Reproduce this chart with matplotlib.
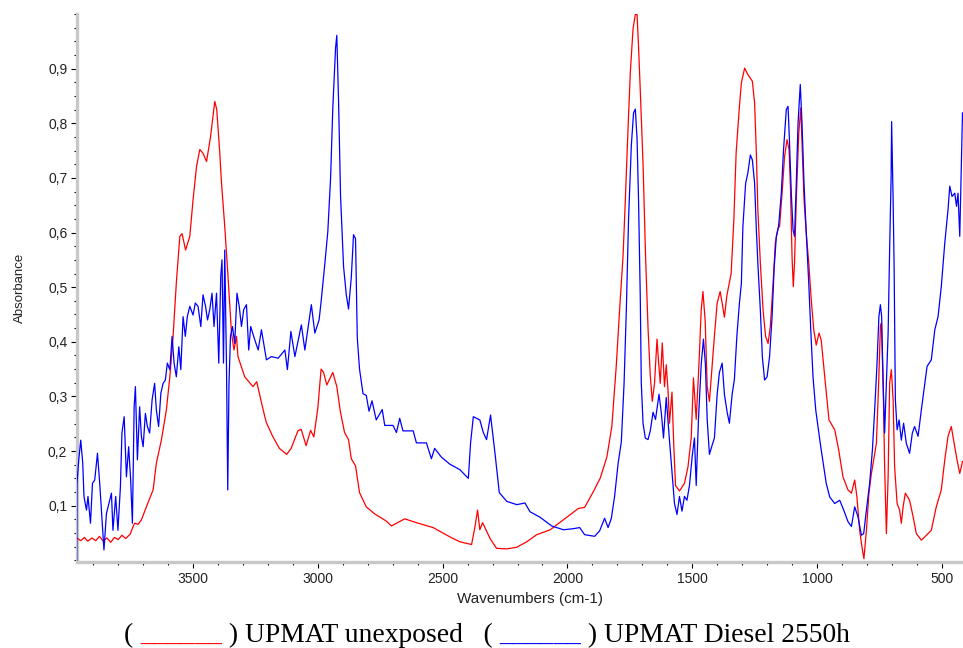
import numpy as np
import matplotlib.pyplot as plt
from matplotlib.ticker import MultipleLocator, FixedLocator, FuncFormatter

# UPMAT unexposed (red): wavenumber (cm-1), absorbance
red_wn = [3963, 3950, 3935, 3922, 3905, 3890, 3875, 3860, 3845, 3830, 3815, 3800, 3785, 3770,
          3752, 3740, 3734, 3720, 3707, 3687, 3660, 3647, 3627, 3607, 3593, 3580, 3567, 3553,
          3544, 3530, 3513, 3500, 3486, 3473, 3460, 3446, 3430, 3413, 3405, 3393, 3386, 3373,
          3360, 3346, 3336, 3326, 3320, 3293, 3260, 3245, 3221, 3207, 3181, 3154, 3125, 3107,
          3080, 3067, 3047, 3029, 3016, 3000, 2987, 2977, 2964, 2940, 2924, 2910, 2893, 2877,
          2866, 2849, 2833, 2806, 2772, 2726, 2705, 2652, 2605, 2538, 2471, 2431, 2384, 2371,
          2360, 2351, 2340, 2310, 2284, 2243, 2203, 2163, 2123, 2069, 2002, 1956, 1931, 1897,
          1869, 1842, 1822, 1804, 1791, 1777, 1768, 1757, 1748, 1737, 1728, 1721, 1715, 1708,
          1697, 1687, 1677, 1668, 1660, 1651, 1641, 1635, 1628, 1620, 1611, 1604, 1597, 1591,
          1581, 1575, 1567, 1551, 1531, 1517, 1504, 1495, 1484, 1473, 1464, 1457, 1448, 1440,
          1431, 1420, 1411, 1400, 1388, 1380, 1371, 1361, 1344, 1333, 1324, 1311, 1303, 1290,
          1277, 1259, 1250, 1243, 1237, 1227, 1216, 1206, 1196, 1187, 1176, 1167, 1156, 1150,
          1139, 1130, 1120, 1112, 1106, 1100, 1095, 1090, 1083, 1073, 1065, 1059, 1052, 1043,
          1033, 1023, 1013, 1003, 992, 983, 969, 952, 929, 913, 896, 876, 862, 849, 840, 829,
          820, 812, 802, 792, 782, 773, 762, 753, 746, 742, 735, 729, 722, 715, 709, 702, 695,
          689, 679, 669, 662, 655, 646, 629, 615, 602, 582, 568, 542, 522, 502, 488, 475, 462,
          448, 439, 428, 417]
red_abs = [0.040, 0.036, 0.042, 0.035, 0.041, 0.036, 0.044, 0.035, 0.041, 0.033, 0.042, 0.038,
           0.046, 0.040, 0.048, 0.062, 0.068, 0.066, 0.074, 0.098, 0.129, 0.178, 0.220, 0.275,
           0.336, 0.410, 0.508, 0.593, 0.598, 0.568, 0.593, 0.660, 0.721, 0.752, 0.745, 0.730,
           0.775, 0.840, 0.825, 0.746, 0.691, 0.611, 0.520, 0.416, 0.385, 0.410, 0.373, 0.336,
           0.318, 0.327, 0.279, 0.253, 0.227, 0.205, 0.194, 0.205, 0.237, 0.240, 0.210, 0.238,
           0.226, 0.279, 0.350, 0.344, 0.321, 0.344, 0.318, 0.273, 0.234, 0.221, 0.186, 0.173,
           0.124, 0.098, 0.085, 0.072, 0.063, 0.076, 0.069, 0.060, 0.043, 0.034, 0.029, 0.060,
           0.092, 0.056, 0.069, 0.040, 0.022, 0.021, 0.024, 0.034, 0.047, 0.056, 0.079, 0.095,
           0.097, 0.125, 0.150, 0.189, 0.245, 0.358, 0.458, 0.558, 0.659, 0.792, 0.893, 0.973,
           0.999, 0.999, 0.940, 0.859, 0.726, 0.558, 0.425, 0.338, 0.291, 0.324, 0.405, 0.365,
           0.324, 0.398, 0.318, 0.358, 0.311, 0.251, 0.308, 0.224, 0.137, 0.127, 0.141, 0.171,
           0.224, 0.334, 0.258, 0.358, 0.458, 0.492, 0.438, 0.318, 0.291, 0.358, 0.411, 0.471,
           0.492, 0.471, 0.445, 0.485, 0.525, 0.625, 0.746, 0.830, 0.874, 0.901, 0.889, 0.877,
           0.837, 0.746, 0.642, 0.544, 0.458, 0.410, 0.397, 0.428, 0.507, 0.581, 0.608, 0.611,
           0.678, 0.739, 0.770, 0.752, 0.678, 0.556, 0.501, 0.544, 0.660, 0.782, 0.828, 0.752,
           0.660, 0.599, 0.544, 0.477, 0.422, 0.394, 0.416, 0.403, 0.336, 0.257, 0.239, 0.202,
           0.153, 0.129, 0.123, 0.147, 0.116, 0.055, 0.025, 0.003, 0.055, 0.123, 0.159, 0.184,
           0.214, 0.324, 0.428, 0.434, 0.324, 0.171, 0.049, 0.153, 0.324, 0.349, 0.294, 0.171,
           0.104, 0.092, 0.068, 0.098, 0.123, 0.110, 0.080, 0.049, 0.037, 0.043, 0.055, 0.098,
           0.129, 0.184, 0.227, 0.245, 0.208, 0.184, 0.159, 0.181]

# UPMAT Diesel 2550h (blue)
blue_wn = [3966, 3965, 3958, 3950, 3942, 3937, 3927, 3921, 3911, 3903, 3894, 3883, 3874, 3867, 3857,
           3847, 3834, 3827, 3821, 3810, 3801, 3791, 3785, 3776, 3767, 3758, 3750, 3743, 3736,
           3731, 3723, 3714, 3707, 3700, 3691, 3683, 3674, 3664, 3654, 3647, 3638, 3629, 3620,
           3611, 3603, 3593, 3584, 3576, 3567, 3557, 3549, 3540, 3531, 3523, 3513, 3500, 3491,
           3480, 3469, 3460, 3450, 3442, 3433, 3424, 3416, 3406, 3397, 3389, 3384, 3378, 3373,
           3366, 3361, 3356, 3350, 3342, 3333, 3324, 3315, 3306, 3297, 3286, 3277, 3269, 3253,
           3239, 3226, 3206, 3186, 3159, 3132, 3122, 3108, 3092, 3066, 3052, 3026, 3012, 2995,
           2987, 2973, 2960, 2949, 2940, 2929, 2924, 2917, 2909, 2897, 2886, 2877, 2866, 2857,
           2849, 2842, 2833, 2819, 2806, 2795, 2783, 2766, 2742, 2732, 2699, 2685, 2672, 2659,
           2618, 2605, 2565, 2545, 2532, 2505, 2471, 2431, 2397, 2388, 2377, 2351, 2337, 2324,
           2308, 2290, 2273, 2243, 2203, 2170, 2150, 2110, 2063, 2016, 1976, 1951, 1931, 1891,
           1871, 1851, 1837, 1824, 1811, 1797, 1784, 1773, 1764, 1755, 1744, 1735, 1728, 1721,
           1715, 1708, 1704, 1697, 1688, 1677, 1668, 1657, 1647, 1633, 1624, 1615, 1604, 1593,
           1580, 1571, 1561, 1551, 1541, 1531, 1521, 1511, 1500, 1491, 1484, 1475, 1464, 1455,
           1447, 1440, 1431, 1420, 1411, 1400, 1391, 1380, 1371, 1360, 1351, 1340, 1331, 1321,
           1311, 1303, 1297, 1286, 1277, 1267, 1259, 1250, 1243, 1237, 1227, 1219, 1210, 1200,
           1190, 1180, 1172, 1163, 1154, 1143, 1134, 1123, 1116, 1110, 1103, 1096, 1090, 1083,
           1076, 1067, 1060, 1052, 1043, 1033, 1025, 1016, 1005, 996, 985, 973, 963, 949, 929,
           909, 893, 876, 862, 849, 836, 822, 813, 802, 789, 778, 769, 760, 752, 746, 741, 735,
           729, 722, 715, 709, 703, 701, 695, 691, 686, 679, 671, 662, 653, 642, 629, 618, 609,
           595, 582, 568, 559, 542, 528, 515, 502, 488, 475, 468, 459, 448, 441, 435, 428, 421,
           417]
blue_abs = [0.0, 0.141, 0.184, 0.220, 0.178, 0.117, 0.092, 0.117, 0.068, 0.141, 0.147, 0.196, 0.141,
            0.092, 0.019, 0.086, 0.110, 0.123, 0.055, 0.117, 0.055, 0.135, 0.233, 0.263, 0.153,
            0.208, 0.147, 0.068, 0.281, 0.318, 0.184, 0.281, 0.227, 0.208, 0.269, 0.245, 0.233,
            0.294, 0.324, 0.275, 0.245, 0.306, 0.324, 0.330, 0.361, 0.349, 0.410, 0.361, 0.336,
            0.391, 0.349, 0.446, 0.410, 0.446, 0.465, 0.449, 0.471, 0.465, 0.428, 0.486, 0.465,
            0.440, 0.459, 0.489, 0.428, 0.489, 0.361, 0.520, 0.550, 0.361, 0.568, 0.355, 0.129,
            0.324, 0.410, 0.428, 0.397, 0.489, 0.465, 0.428, 0.459, 0.468, 0.385, 0.428, 0.404,
            0.385, 0.422, 0.367, 0.373, 0.370, 0.385, 0.349, 0.419, 0.373, 0.431, 0.385, 0.468,
            0.416, 0.440, 0.473, 0.538, 0.602, 0.699, 0.828, 0.938, 0.961, 0.841, 0.667, 0.538,
            0.486, 0.460, 0.518, 0.596, 0.589, 0.408, 0.350, 0.305, 0.302, 0.273, 0.292, 0.257,
            0.276, 0.247, 0.247, 0.234, 0.260, 0.237, 0.237, 0.215, 0.215, 0.186, 0.205, 0.189,
            0.176, 0.166, 0.150, 0.215, 0.263, 0.257, 0.234, 0.221, 0.266, 0.195, 0.124, 0.108,
            0.102, 0.105, 0.089, 0.079, 0.063, 0.056, 0.058, 0.060, 0.047, 0.044, 0.054, 0.077,
            0.060, 0.077, 0.117, 0.177, 0.217, 0.324, 0.458, 0.625, 0.759, 0.819, 0.826, 0.772,
            0.659, 0.478, 0.324, 0.251, 0.224, 0.221, 0.237, 0.271, 0.258, 0.304, 0.271, 0.224,
            0.298, 0.231, 0.157, 0.104, 0.084, 0.117, 0.090, 0.117, 0.110, 0.137, 0.191, 0.224,
            0.137, 0.258, 0.358, 0.405, 0.358, 0.258, 0.194, 0.211, 0.224, 0.304, 0.344, 0.361,
            0.304, 0.271, 0.251, 0.304, 0.331, 0.411, 0.470, 0.507, 0.610, 0.690, 0.709, 0.742,
            0.733, 0.690, 0.605, 0.544, 0.458, 0.373, 0.330, 0.336, 0.373, 0.446, 0.532, 0.593,
            0.611, 0.672, 0.752, 0.825, 0.831, 0.764, 0.672, 0.605, 0.593, 0.690, 0.800, 0.871,
            0.800, 0.690, 0.599, 0.507, 0.422, 0.336, 0.275, 0.245, 0.208, 0.171, 0.141, 0.116,
            0.104, 0.110, 0.092, 0.071, 0.062, 0.098, 0.080, 0.046, 0.049, 0.092, 0.141, 0.202,
            0.275, 0.355, 0.446, 0.468, 0.446, 0.324, 0.233, 0.324, 0.416, 0.568, 0.703, 0.803,
            0.660, 0.538, 0.294, 0.239, 0.257, 0.220, 0.251, 0.214, 0.196, 0.233, 0.245, 0.227,
            0.275, 0.324, 0.355, 0.367, 0.422, 0.446, 0.501, 0.581, 0.642, 0.685, 0.666, 0.672,
            0.648, 0.672, 0.593, 0.733, 0.819]

y_major = [0.1, 0.2, 0.3, 0.4, 0.5, 0.6, 0.7, 0.8, 0.9]
sans = ['Liberation Sans', 'DejaVu Sans']
serif = ['Liberation Serif', 'DejaVu Serif']

fig = plt.figure(figsize=(9.63, 6.48), dpi=100)
ax = fig.add_axes([77/963, 1 - 562/648, 1 - 77/963, 548/648])

ax.plot(red_wn, red_abs, color='#ff0000', lw=0.9, zorder=3)
ax.plot(blue_wn, blue_abs, color='#0000ff', lw=0.9, zorder=3)

ax.set_xlim(3965, 415)
ax.set_ylim(-0.003, 1.0)

ax.xaxis.set_major_locator(FixedLocator([3500, 3000, 2500, 2000, 1500, 1000, 500]))
ax.xaxis.set_minor_locator(MultipleLocator(100))
ax.yaxis.set_major_locator(FixedLocator(y_major))
ax.yaxis.set_minor_locator(MultipleLocator(0.025))
ax.yaxis.set_major_formatter(FuncFormatter(lambda v, p: ('%.1f' % v).replace('.', ',')))

for s in ['top', 'right']:
    ax.spines[s].set_visible(False)
for s in ['left', 'bottom']:
    ax.spines[s].set_color('#c8c8c8')
    ax.spines[s].set_linewidth(2.4)

ax.tick_params(which='major', length=4, width=0.8, color='black', labelsize=10, pad=3)
ax.tick_params(which='minor', length=2.5, width=0.8, color='black')
for lab in ax.get_xticklabels() + ax.get_yticklabels():
    lab.set_family(sans)
    lab.set_color('#222222')

ax.set_xlabel('Wavenumbers (cm-1)', family=sans, fontsize=11, color='#222222')
ax.set_ylabel('Absorbance', family=sans, fontsize=9.5, color='#222222')
ax.xaxis.set_label_coords(0.511, -0.054)
ax.yaxis.set_label_coords(-0.058, 0.5)

# legend written as a caption line under the chart
pieces = [('( ', 'black'), ('______', '#ff0000'), (' ) UPMAT unexposed   ( ', 'black'),
          ('______', '#0000ff'), (' ) UPMAT Diesel 2550h', 'black')]
prev = fig.text(124/963, 0.0, pieces[0][0], family=serif, fontsize=19.8,
                color=pieces[0][1], va='bottom')
for txt, col in pieces[1:]:
    prev = ax.annotate(txt, xy=(1, 0), xycoords=prev, va='bottom', ha='left',
                       family=serif, fontsize=19.8, color=col, annotation_clip=False)

fig.savefig('out.png', dpi=100)
